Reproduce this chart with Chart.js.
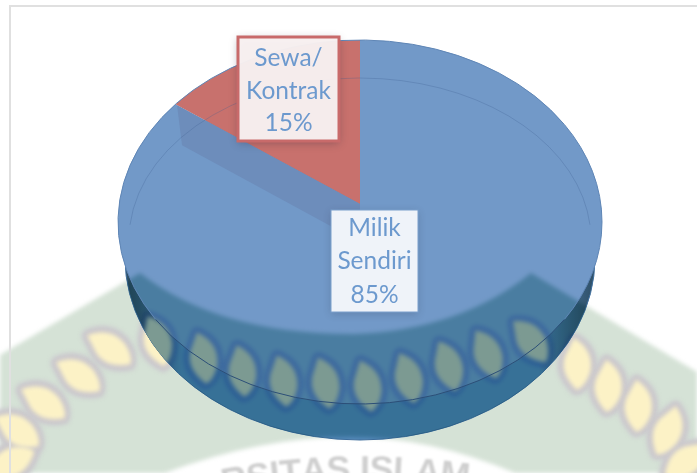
<!DOCTYPE html>
<html>
<head>
<meta charset="utf-8">
<style>
html,body{margin:0;padding:0;background:#fff;overflow:hidden}
canvas{display:block}
</style>
<script src="https://cdn.jsdelivr.net/npm/chart.js@4"></script>
</head>
<body>
<canvas id="kepemilikan_chart" width="697" height="473"></canvas>
<script>
const categories = ['Milik Sendiri', 'Sewa/ Kontrak'];
const values = [85, 15];
const sliceColors = ['#7299c8', '#c8716d'];

// faded logo behind the chart: x, y, tilt of each leaf in the rope
const leaves = [
    [10,463,-40],[17,430,22],[43,402,22],[78,375,22],[109,348,22],[157,340,60],
    [203,357,68],[242,370,70],[283,380,68],[325,382,66],[367,385,66],[408,377,62],
    [448,365,60],[487,353,55],[530,340,40],[577,363,75],[608,385,78],[638,405,78],
    [668,430,100],[687,460,130]
];
const logoText = 'RSITAS ISLAM';

// top face outline, the body under it, where the pie tip sits
const face = {x:360, y:222, rx:242, ry:182};
const body = {x:360, y:258, rx:235, ry:182};
const tip = {x:360, y:204, rx:300, ry:223};

const outside = {green:'#d5e2d6', halo:'#cbc8cd', leaf:'#fcf2c6'};
const inside = {green:'#a5d1cd', halo:'#d4dafc', leaf:'#7c9a92'};

function leafPath(ctx, l){
    ctx.translate(l[0],l[1]);
    ctx.rotate(l[2]*Math.PI/180);
    ctx.scale(1,1.18);
    ctx.beginPath();
    ctx.moveTo(-25,-3);
    ctx.quadraticCurveTo(-8,-17,12,-9);
    ctx.quadraticCurveTo(25,-2,26,6);
    ctx.quadraticCurveTo(5,17,-10,8);
    ctx.closePath();
}

function logo(ctx, pal, mixed){
    ctx.save();
    ctx.filter = 'blur(2px)';
    if(mixed) ctx.globalCompositeOperation = 'multiply';
    ctx.fillStyle = pal.green;
    ctx.beginPath();
    ctx.moveTo(0,355);
    ctx.lineTo(140,273);
    ctx.quadraticCurveTo(220,335,355,334);
    ctx.quadraticCurveTo(460,330,531,273);
    ctx.lineTo(697,372);
    ctx.lineTo(697,473);
    ctx.lineTo(515,473);
    ctx.quadraticCurveTo(430,437,350,437);
    ctx.quadraticCurveTo(260,437,165,473);
    ctx.lineTo(0,473);
    ctx.closePath();
    ctx.fill();
    for(const l of leaves){
        ctx.save();
        leafPath(ctx,l);
        ctx.strokeStyle = pal.halo;
        ctx.lineWidth = 11;
        ctx.lineJoin = 'round';
        ctx.stroke();
        ctx.restore();
    }
    ctx.globalCompositeOperation = 'source-over';
    ctx.fillStyle = pal.leaf;
    for(const l of leaves){
        ctx.save();
        leafPath(ctx,l);
        ctx.fill();
        ctx.restore();
    }
    ctx.restore();
}

function logoWords(ctx){
    ctx.save();
    ctx.filter = 'blur(0.8px)';
    ctx.fillStyle = '#cfcfcf';
    ctx.font = 'bold 36px "Liberation Sans"';
    ctx.textAlign = 'left';
    ctx.textBaseline = 'alphabetic';
    const r = 768, cx = 362, cy = 455 + 768;
    let x = 218 - cx;
    for(const ch of logoText){
        const w = ctx.measureText(ch).width;
        const a = (x+w/2)/r;
        ctx.save();
        ctx.translate(cx+Math.sin(a)*(r-26), cy-Math.cos(a)*(r-26));
        ctx.rotate(a);
        ctx.fillText(ch,-w/2,0);
        ctx.restore();
        x += w;
    }
    ctx.restore();
}

function silhouette(ctx){
    ctx.beginPath();
    ctx.ellipse(face.x,face.y,face.rx,face.ry,0,0,Math.PI*2);
    ctx.ellipse(body.x,body.y,body.rx,body.ry,0,0,Math.PI*2);
}

const pieSurface = {
    id:'pieSurface',
    beforeDraw(chart){
        const ctx = chart.ctx;
        ctx.save();
        ctx.fillStyle = '#fff';
        ctx.fillRect(0,0,chart.width,chart.height);
        logo(ctx,outside,false);
        logoWords(ctx);
        ctx.fillStyle = '#e0e0e0';
        ctx.fillRect(9,5,chart.width-9,2);
        ctx.fillRect(9,5,2,chart.height-5);
        ctx.restore();
    },
    beforeDatasetsDraw(chart){
        const ctx = chart.ctx, arc = chart.getDatasetMeta(0).data[0];
        // side of the cylinder
        ctx.save();
        const side = ctx.createLinearGradient(body.x-body.rx,0,body.x+body.rx,0);
        side.addColorStop(0,'#2f4f66');
        side.addColorStop(0.12,'#558abc');
        side.addColorStop(0.88,'#558abc');
        side.addColorStop(1,'#2f4f66');
        ctx.fillStyle = side;
        ctx.beginPath();
        ctx.ellipse(body.x,body.y,body.rx,body.ry,0,0,Math.PI*2);
        ctx.fill();
        ctx.strokeStyle = '#3f6f9f';
        ctx.lineWidth = 1;
        ctx.stroke();
        ctx.restore();
        // squash the round pie into the tilted top face
        ctx.save();
        ctx.beginPath();
        ctx.ellipse(face.x,face.y,face.rx,face.ry,0,0,Math.PI*2);
        ctx.clip();
        ctx.translate(tip.x,tip.y);
        ctx.scale(tip.rx/arc.outerRadius,tip.ry/arc.outerRadius);
        ctx.translate(-arc.x,-arc.y);
    },
    afterDatasetsDraw(chart){
        const ctx = chart.ctx, red = chart.getDatasetMeta(0).data[1];
        ctx.restore();
        ctx.save();
        // logo showing through the pie
        ctx.save();
        silhouette(ctx);
        ctx.clip('nonzero');
        logo(ctx,inside,true);
        ctx.restore();
        // inner wall of the cut, left edge of the red slice
        const reach = 0.754, depth = 38;
        const ex = tip.x+Math.cos(red.startAngle)*tip.rx*reach;
        const ey = tip.y+Math.sin(red.startAngle)*tip.ry*reach;
        ctx.fillStyle = '#6d8dbb';
        ctx.beginPath();
        ctx.moveTo(tip.x,tip.y);
        ctx.lineTo(ex,ey);
        ctx.lineTo(ex+5,ey+depth+2);
        ctx.lineTo(tip.x,tip.y+depth);
        ctx.closePath();
        ctx.fill();
        // faint bevel ring
        ctx.strokeStyle = 'rgba(60,95,145,0.28)';
        ctx.lineWidth = 1;
        ctx.beginPath();
        ctx.ellipse(360,240,231,162,0,Math.PI*1.03,Math.PI*1.97);
        ctx.stroke();
        // rims
        ctx.strokeStyle = '#5f86b6';
        ctx.beginPath();
        ctx.ellipse(face.x,face.y,face.rx,face.ry,0,Math.PI*0.82,Math.PI*2.18);
        ctx.stroke();
        ctx.strokeStyle = '#2c4f78';
        ctx.beginPath();
        ctx.ellipse(face.x,face.y,face.rx,face.ry,0,Math.PI*0.18,Math.PI*0.82);
        ctx.stroke();
        ctx.restore();
    },
    afterDraw(chart){
        const ctx = chart.ctx;
        const boxes = [
            {x:331, y:210, w:87, h:102, fill:'#eff3f9', edge:'#7a9fcc', lw:1, lines:[228,261,295], cx:374.5, glow:0.2},
            {x:238, y:37, w:101, h:104, fill:'rgba(248,241,241,0.97)', edge:'#c86a6a', lw:3, lines:[58,91,123], cx:288.5, glow:0.35}
        ];
        boxes.forEach((b,i)=>{
            ctx.save();
            ctx.shadowColor = `rgba(40,40,60,${b.glow})`;
            ctx.shadowBlur = 8;
            ctx.shadowOffsetY = 2;
            ctx.fillStyle = b.fill;
            ctx.fillRect(b.x,b.y,b.w,b.h);
            ctx.shadowColor = 'transparent';
            ctx.strokeStyle = b.edge;
            ctx.lineWidth = b.lw;
            ctx.strokeRect(b.x,b.y,b.w,b.h);
            ctx.fillStyle = '#6c99ce';
            ctx.font = '24.5px Lato';
            ctx.textAlign = 'center';
            ctx.textBaseline = 'middle';
            const words = categories[i].split(' ').concat(values[i]+'%');
            words.forEach((w,j)=>ctx.fillText(w,b.cx,b.lines[j]));
            ctx.restore();
        });
    }
};

new Chart(document.getElementById('kepemilikan_chart'),{
    type:'pie',
    data:{
        labels:categories,
        datasets:[{
            data:values,
            backgroundColor:sliceColors,
            borderWidth:0,
            clip:false
        }]
    },
    options:{
        responsive:false,
        animation:false,
        plugins:{
            legend:{display:false},
            tooltip:{enabled:false}
        }
    },
    plugins:[pieSurface]
});
</script>
</body>
</html>
